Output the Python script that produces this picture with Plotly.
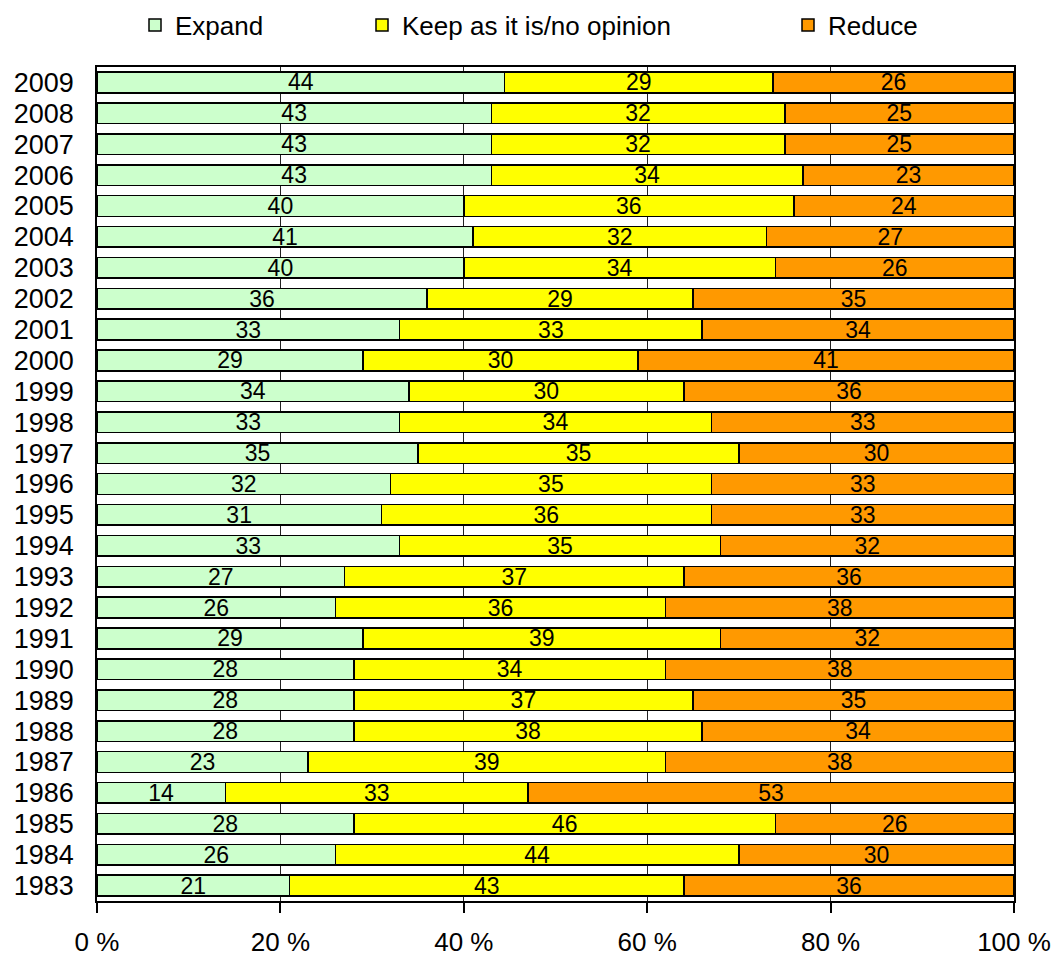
import plotly.graph_objects as go

# Survey years, bottom to top
years = [
    "1983", "1984", "1985", "1986", "1987", "1988", "1989", "1990", "1991",
    "1992", "1993", "1994", "1995", "1996", "1997", "1998", "1999", "2000",
    "2001", "2002", "2003", "2004", "2005", "2006", "2007", "2008", "2009",
]

# Share of respondents per answer (percent)
expand = [21, 26, 28, 14, 23, 28, 28, 28, 29, 26, 27, 33, 31, 32, 35, 33, 34, 29,
          33, 36, 40, 41, 40, 43, 43, 43, 44]
keep = [43, 44, 46, 33, 39, 38, 37, 34, 39, 36, 37, 35, 36, 35, 35, 34, 30, 30,
        33, 29, 34, 32, 36, 34, 32, 32, 29]
reduce_ = [36, 30, 26, 53, 38, 34, 35, 38, 32, 38, 36, 32, 33, 33, 30, 33, 36, 41,
           34, 35, 26, 27, 24, 23, 25, 25, 26]

series = [
    ("Expand", expand, "#CCFFCC", "legend"),
    ("Keep as it is/no opinion", keep, "#FFFF00", "legend2"),
    ("Reduce", reduce_, "#FF9900", "legend3"),
]

FONT = "Liberation Sans, Arial, sans-serif"

fig = go.Figure()
for name, vals, color, leg in series:
    fig.add_trace(go.Bar(
        y=years,
        x=vals,
        name=name,
        orientation="h",
        marker=dict(color=color, line=dict(color="#000000", width=1.5)),
        text=vals,
        textposition="inside",
        insidetextanchor="middle",
        textangle=0,
        constraintext="none",
        textfont=dict(family=FONT, size=23, color="#000000"),
        legend=leg,
        showlegend=True,
        hoverinfo="skip",
    ))

legend_common = dict(
    orientation="h",
    xref="container",
    yref="container",
    yanchor="middle",
    xanchor="left",
    y=1 - 25 / 956,
    font=dict(family=FONT, size=26, color="#000000"),
    bgcolor="rgba(0,0,0,0)",
    borderwidth=0,
)

fig.update_layout(
    width=1055,
    height=956,
    margin=dict(l=97, r=41, t=67, b=55, autoexpand=False),
    paper_bgcolor="#FFFFFF",
    plot_bgcolor="#FFFFFF",
    showlegend=True,
    barmode="stack",
    barnorm="percent",
    bargap=0.33,
    uniformtext=dict(minsize=23, mode="show"),
    font=dict(family=FONT, size=26, color="#000000"),
    legend=dict(legend_common, x=135 / 1055),
    legend2=dict(legend_common, x=362 / 1055),
    legend3=dict(legend_common, x=788 / 1055),
)

fig.update_xaxes(
    range=[0, 100],
    tick0=0,
    dtick=20,
    ticksuffix=" %",
    ticks="outside",
    ticklen=10,
    tickwidth=1.5,
    tickcolor="#000000",
    ticklabelstandoff=7,
    showgrid=True,
    gridcolor="#222222",
    gridwidth=1.2,
    showline=True,
    linecolor="#000000",
    linewidth=2,
    mirror=True,
    zeroline=False,
    automargin=False,
    tickfont=dict(family=FONT, size=26, color="#000000"),
)

fig.update_yaxes(
    type="category",
    categoryorder="array",
    categoryarray=years,
    tickmode="array",
    tickvals=years,
    ticktext=years,
    ticks="",
    ticklabelstandoff=16,
    showgrid=False,
    showline=True,
    linecolor="#000000",
    linewidth=1.5,
    mirror=True,
    automargin=False,
    tickfont=dict(family=FONT, size=27, color="#000000"),
)

fig.write_html("out.html")
